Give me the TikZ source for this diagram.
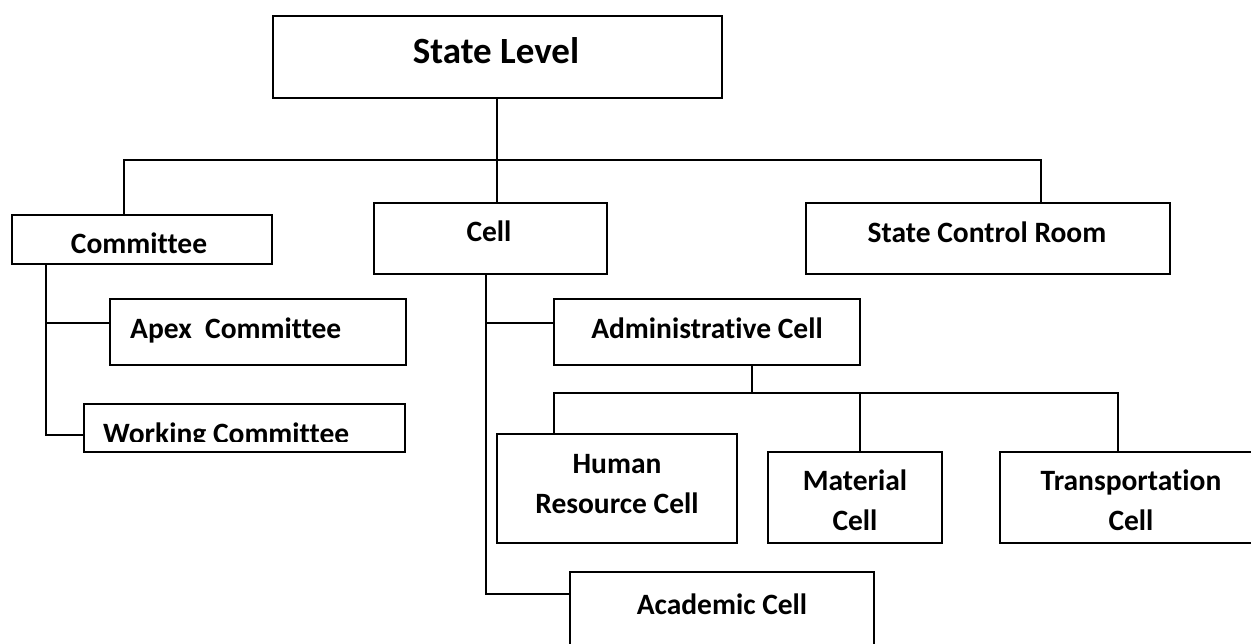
\documentclass[tikz,border=0pt]{standalone}
\usepackage{fontspec}
\setmainfont{Carlito}[Ligatures=NoCommon]
\tikzset{
  box/.style={draw, line width=2pt, rectangle, inner sep=0pt},
  txt/.style={font=\bfseries\fontsize{29.5}{36}\selectfont, inner sep=0pt, anchor=base},
  big/.style={font=\bfseries\fontsize{37}{44}\selectfont, inner sep=0pt, anchor=base},
  conn/.style={line width=2pt}
}
\begin{document}
\begin{tikzpicture}[x=1pt,y=-1pt]
\useasboundingbox (0,0) rectangle (1251,643);
\clip (0,0) rectangle (1251,643);
% boxes
\node[box, minimum width=449pt, minimum height=82pt] (state) at (497,57) {};
\node[box, minimum width=260pt, minimum height=49pt] (committee) at (142,239.5) {};
\node[box, minimum width=233pt, minimum height=71pt] (cell) at (490.5,238.5) {};
\node[box, minimum width=364pt, minimum height=71pt] (scr) at (988,238.5) {};
\node[box, minimum width=296pt, minimum height=66pt] (apex) at (258,332) {};
\node[box, minimum width=321pt, minimum height=48pt] (working) at (244.5,428) {};
\node[box, minimum width=306pt, minimum height=66pt] (admin) at (707,332) {};
\node[box, minimum width=240pt, minimum height=109pt] (hr) at (617,488.5) {};
\node[box, minimum width=174pt, minimum height=91pt] (mat) at (855,497.5) {};
\node[box, minimum width=300pt, minimum height=91pt] (trans) at (1150,497.5) {};
\node[box, minimum width=304pt, minimum height=120pt] (acad) at (722,632) {};
% texts
\node[big] (tstate) at (496,63) {State Level};
\node[txt] (tcommittee) at (139,253) {Committee};
\node[txt] (tcell) at (489,241) {Cell};
\node[txt] (tscr) at (987,242) {State Control Room};
\node[txt, anchor=base west] (tapex) at (130,338) {Apex\ \ Committee};
\begin{scope}
  \clip (84,404) rectangle (405,441);
  \node[txt, anchor=base west] (tworking) at (103,443) {Working Committee};
\end{scope}
\node[txt] (tadmin) at (707,338) {Administrative Cell};
\node[txt] (thr1) at (617,473) {Human};
\node[txt] (thr2) at (617,513) {Resource Cell};
\node[txt] (tmat1) at (855,490) {Material};
\node[txt] (tmat2) at (855,530) {Cell};
\node[txt] (ttr1) at (1131,490) {Transportation};
\node[txt] (ttr2) at (1131,530) {Cell};
\node[txt] (tacad) at (722,614) {Academic Cell};
% connector coordinates
\coordinate (busL) at (124,160);
\coordinate (busR) at (1041,160);
\coordinate (c1) at (46,323);
\coordinate (c2) at (46,435);
\coordinate (a1) at (486,323);
\coordinate (t1) at (486,594);
\coordinate (ab) at (752,393);
\coordinate (abL) at (554,393);
\coordinate (abM) at (860,393);
\coordinate (abR) at (1118,393);
% connectors
\draw[conn] (state.south) -- (state.south |- cell.north);
\draw[conn] (busL |- committee.north) -- (busL) -- (busR) -- (busR |- scr.north);
\draw[conn] (committee.south -| c1) -- (c2) -- (c2 -| working.west);
\draw[conn] (c1) -- (c1 -| apex.west);
\draw[conn] (cell.south -| t1) -- (t1) -- (t1 -| acad.west);
\draw[conn] (a1) -- (a1 -| admin.west);
\draw[conn] (admin.south -| ab) -- (ab);
\draw[conn] (abL |- hr.north) -- (abL) -- (abR) -- (abR |- trans.north);
\draw[conn] (abM) -- (abM |- mat.north);
\end{tikzpicture}
\end{document}
